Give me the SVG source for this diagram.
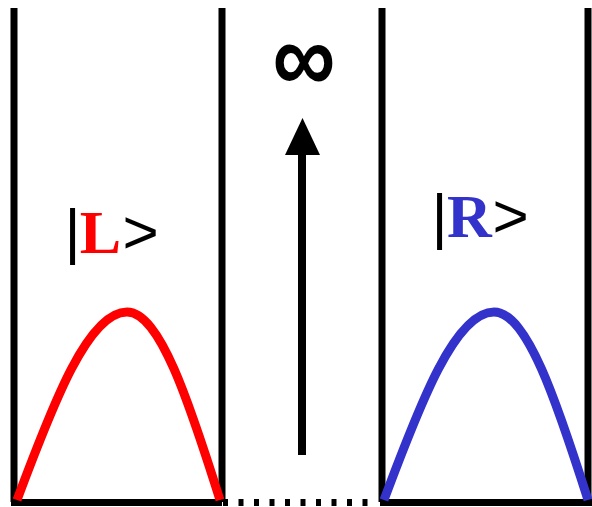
<svg xmlns="http://www.w3.org/2000/svg" width="592" height="507" viewBox="0 0 592 507">
<style>
.wall{stroke:#000;stroke-width:7;fill:none}
.wave{fill:none;stroke-width:9;stroke-linecap:butt}
.sym{font-family:"Liberation Sans",Arial,sans-serif;font-size:62px;fill:#000}
.let{font-family:"Liberation Serif","Times New Roman",serif;font-size:62px;font-weight:bold}
</style>
<rect width="592" height="507" fill="#fff"/>
<g id="left-well">
<line class="wall" x1="14" y1="8" x2="14" y2="502"/>
<line class="wall" x1="222" y1="8" x2="222" y2="502"/>
<line class="wall" x1="11" y1="502.5" x2="222" y2="502.5"/>
</g>
<g id="right-well">
<line class="wall" x1="382" y1="8" x2="382" y2="502"/>
<line class="wall" x1="588" y1="8" x2="588" y2="502"/>
<line class="wall" x1="380" y1="502.5" x2="592" y2="502.5"/>
</g>
<g id="barrier">
<line x1="223" y1="502.5" x2="378" y2="502.5" stroke="#000" stroke-width="7" stroke-dasharray="5 10.5"/>
</g>
<g id="wave-L">
<path class="wave" stroke="#ff0000" d="M17,500 C53.8,401.3 88.5,312 127,312 C159.6,312 188.9,401.3 220,500"/>
</g>
<g id="wave-R">
<path class="wave" stroke="#3333cc" d="M384,500 C420.8,401.3 455.5,312 494,312 C526.9,312 556.6,401.3 588,500"/>
</g>
<g id="label-L">
<text class="sym" x="72.5" y="252" text-anchor="middle">|</text>
<text class="let" x="100.5" y="253" text-anchor="middle" fill="#ff0000">L</text>
<text class="sym" x="140.5" y="253" text-anchor="middle">&gt;</text>
</g>
<g id="label-R">
<text class="sym" x="439.5" y="237" text-anchor="middle">|</text>
<text class="let" x="469.5" y="237" text-anchor="middle" fill="#3333cc">R</text>
<text class="sym" x="510.5" y="237" text-anchor="middle">&gt;</text>
</g>
<g id="infinity" transform="translate(304,63.5) scale(1.05,1.2)">
<text x="0" y="24" text-anchor="middle" font-family="Liberation Sans,Arial,sans-serif" font-size="84" font-weight="bold" fill="#000">∞</text>
</g>
<g id="connectors">
<line x1="302" y1="455" x2="302" y2="150" stroke="#000" stroke-width="8"/>
<polygon points="302.5,118 320,155 285,155" fill="#000"/>
</g>
</svg>
